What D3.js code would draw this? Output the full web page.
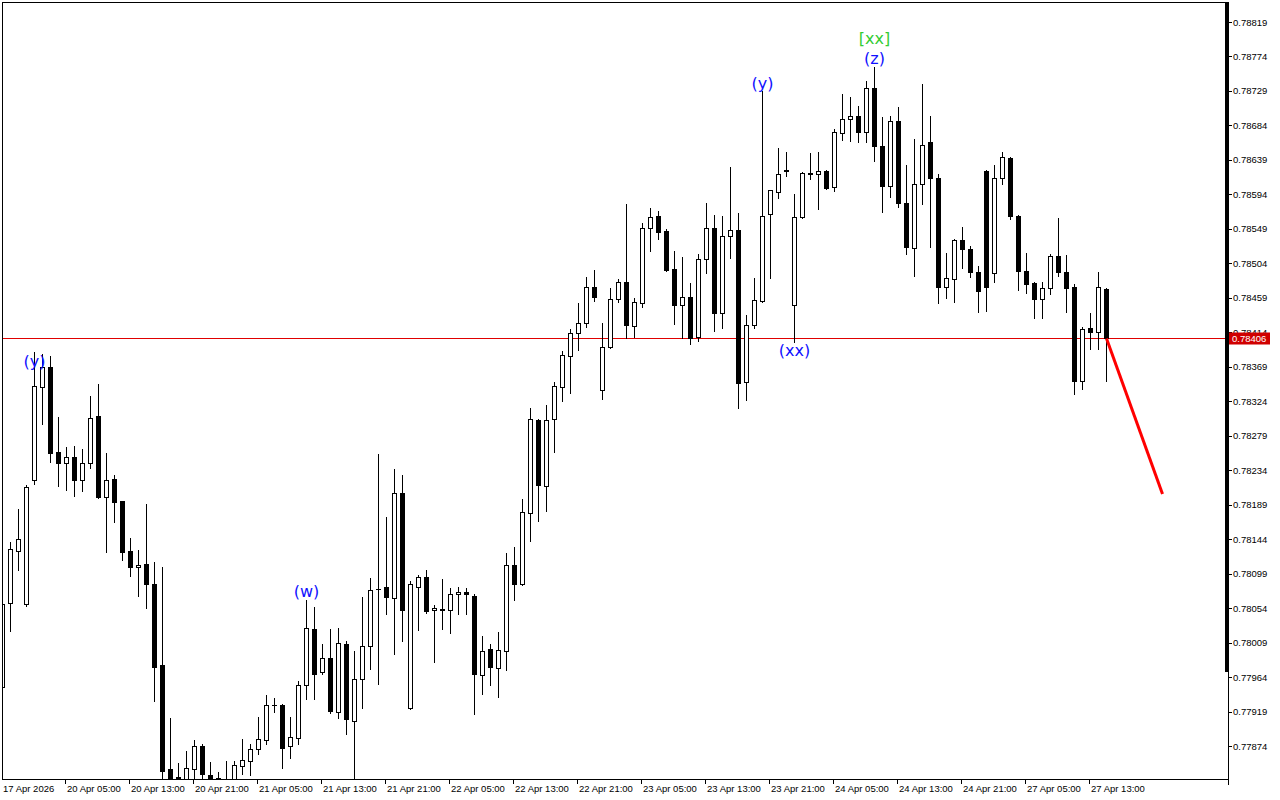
<!DOCTYPE html>
<html><head><meta charset="utf-8">
<script src="https://cdn.jsdelivr.net/npm/d3@7"></script>
<style>body{margin:0;background:#fff;overflow:hidden}svg{display:block}</style>
</head><body>
<svg id="c" width="1280" height="800"></svg>
<script>
// ---- data (H1 candles) ----
const opens = [0.77951,0.78061,0.78129,0.78059,0.78221,0.78343,0.78369,0.78258,0.78243,0.78251,0.78221,0.78243,0.78305,0.78199,0.78222,0.78194,0.78129,0.78108,0.78112,0.78085,
0.77980,0.77844,0.77833,0.77828,0.77844,0.77874,0.77836,0.77832,0.77830,0.77829,0.77848,0.77854,0.77870,0.77882,0.77928,0.77928,0.77874,0.77884,0.77954,0.78027,
0.77971,0.77989,0.77918,0.78007,0.77907,0.77961,0.78005,0.78079,0.78082,0.78067,0.78204,0.77924,0.78082,0.78095,0.78052,0.78053,0.78052,0.78072,0.78075,0.78070,
0.77967,0.78001,0.77976,0.77998,0.78110,0.78085,0.78178,0.78300,0.78213,0.78301,0.78343,0.78383,0.78413,0.78426,0.78473,0.78339,0.78395,0.78457,0.78480,0.78422,
0.78452,0.78550,0.78566,0.78546,0.78497,0.78450,0.78460,0.78408,0.78510,0.78550,0.78439,0.78540,0.78548,0.78349,0.78424,0.78455,0.78568,0.78597,0.78626,0.78450,
0.78564,0.78622,0.78621,0.78625,0.78604,0.78674,0.78692,0.78696,0.78675,0.78733,0.78657,0.78605,0.78690,0.78583,0.78524,0.78608,0.78662,0.78615,0.78473,0.78484,
0.78534,0.78523,0.78493,0.78625,0.78491,0.78615,0.78641,0.78566,0.78494,0.78478,0.78457,0.78472,0.78514,0.78493,0.78473,0.78350,0.78420,0.78414,0.78471];
const highs = [0.78065,0.78140,0.78183,0.78215,0.78388,0.78386,0.78383,0.78303,0.78264,0.78266,0.78262,0.78331,0.78347,0.78256,0.78228,0.78194,0.78145,0.78130,0.78190,0.78114,
0.78108,0.77911,0.77852,0.77867,0.77882,0.77877,0.77853,0.77840,0.77854,0.77854,0.77883,0.77877,0.77912,0.77941,0.77937,0.77929,0.77912,0.77959,0.78065,0.78055,
0.78007,0.78027,0.78028,0.78011,0.77998,0.78068,0.78093,0.78255,0.78173,0.78236,0.78228,0.78089,0.78097,0.78104,0.78058,0.78092,0.78080,0.78082,0.78080,0.78072,
0.78018,0.78007,0.78023,0.78126,0.78134,0.78196,0.78315,0.78301,0.78319,0.78349,0.78390,0.78418,0.78452,0.78486,0.78495,0.78426,0.78472,0.78484,0.78581,0.78459,
0.78557,0.78576,0.78572,0.78549,0.78520,0.78512,0.78478,0.78516,0.78583,0.78567,0.78566,0.78630,0.78570,0.78437,0.78485,0.78729,0.78600,0.78655,0.78649,0.78594,
0.78623,0.78648,0.78649,0.78626,0.78679,0.78725,0.78721,0.78709,0.78742,0.78760,0.78695,0.78696,0.78708,0.78632,0.78666,0.78738,0.78696,0.78621,0.78517,0.78536,
0.78551,0.78527,0.78501,0.78626,0.78632,0.78649,0.78643,0.78567,0.78517,0.78480,0.78480,0.78516,0.78563,0.78515,0.78477,0.78421,0.78439,0.78493,0.78472];
const lows = [0.77947,0.78024,0.78104,0.78057,0.78216,0.78294,0.78245,0.78213,0.78208,0.78200,0.78207,0.78237,0.78198,0.78127,0.78166,0.78117,0.78096,0.78070,0.78054,0.77933,
0.77831,0.77826,0.77826,0.77826,0.77831,0.77830,0.77826,0.77826,0.77826,0.77826,0.77837,0.77836,0.77864,0.77877,0.77918,0.77845,0.77858,0.77877,0.77935,0.77935,
0.77968,0.77917,0.77911,0.77890,0.77831,0.77924,0.77975,0.77955,0.78046,0.77994,0.78011,0.77922,0.78025,0.78048,0.77984,0.78027,0.78021,0.78046,0.78046,0.77916,
0.77942,0.77954,0.77938,0.77973,0.78065,0.78084,0.78142,0.78168,0.78181,0.78258,0.78324,0.78335,0.78391,0.78421,0.78455,0.78327,0.78393,0.78454,0.78407,0.78408,
0.78447,0.78520,0.78536,0.78494,0.78425,0.78407,0.78399,0.78403,0.78491,0.78416,0.78420,0.78511,0.78315,0.78326,0.78420,0.78454,0.78485,0.78589,0.78618,0.78401,
0.78563,0.78614,0.78575,0.78601,0.78598,0.78665,0.78664,0.78662,0.78662,0.78638,0.78571,0.78591,0.78578,0.78516,0.78487,0.78581,0.78525,0.78452,0.78459,0.78454,
0.78498,0.78486,0.78440,0.78442,0.78480,0.78608,0.78562,0.78469,0.78465,0.78433,0.78433,0.78464,0.78487,0.78440,0.78333,0.78340,0.78392,0.78392,0.78350];
const closes = [0.78059,0.78131,0.78144,0.78212,0.78344,0.78369,0.78256,0.78243,0.78251,0.78221,0.78243,0.78302,0.78199,0.78221,0.78192,0.78127,0.78108,0.78110,0.78085,0.77977,
0.77841,0.77830,0.77832,0.77845,0.77874,0.77837,0.77829,0.77830,0.77831,0.77849,0.77856,0.77870,0.77883,0.77928,0.77928,0.77871,0.77886,0.77954,0.78028,0.77968,
0.77989,0.77920,0.78008,0.77909,0.77961,0.78005,0.78078,0.78079,0.78068,0.78204,0.78052,0.78085,0.78095,0.78050,0.78054,0.78052,0.78072,0.78075,0.78072,0.77968,
0.77998,0.77977,0.77999,0.78110,0.78085,0.78179,0.78301,0.78215,0.78300,0.78344,0.78384,0.78413,0.78426,0.78473,0.78460,0.78395,0.78457,0.78480,0.78424,0.78454,
0.78550,0.78564,0.78545,0.78495,0.78450,0.78460,0.78407,0.78510,0.78550,0.78439,0.78540,0.78548,0.78348,0.78424,0.78456,0.78566,0.78600,0.78621,0.78625,0.78564,
0.78622,0.78621,0.78625,0.78602,0.78675,0.78692,0.78696,0.78675,0.78733,0.78657,0.78605,0.78690,0.78583,0.78525,0.78608,0.78658,0.78615,0.78473,0.78485,0.78534,
0.78523,0.78493,0.78468,0.78473,0.78615,0.78643,0.78566,0.78494,0.78477,0.78457,0.78472,0.78514,0.78493,0.78472,0.78350,0.78418,0.78414,0.78473,0.78406];

const timeLabels = ["17 Apr 2026","20 Apr 05:00","20 Apr 13:00","20 Apr 21:00","21 Apr 05:00","21 Apr 13:00","21 Apr 21:00","22 Apr 05:00","22 Apr 13:00","22 Apr 21:00","23 Apr 05:00","23 Apr 13:00","23 Apr 21:00","24 Apr 05:00","24 Apr 13:00","24 Apr 21:00","27 Apr 05:00","27 Apr 13:00"];
const timeLabelBars = [0,8,16,24,32,40,48,56,64,72,80,88,96,104,112,120,128,136];
const priceTicks = [0.78819,0.78774,0.78729,0.78684,0.78639,0.78594,0.78549,0.78504,0.78459,0.78414,0.78369,0.78324,0.78279,0.78234,0.78189,0.78144,0.78099,0.78054,0.78009,0.77964,0.77919,0.77874];
const currentPrice = 0.78406;

const waveLabels = ["(y)","(w)","(y)","(xx)","(z)","[xx]"];
const waveBars   = [4,38,95,99,109,109];
const wavePrices = [0.78376,0.78076,0.78739,0.78390,0.78771,0.78797];
const waveColors = ["#1010ff","#1010ff","#1010ff","#1010ff","#1010ff","#33cc33"];

const forecastBars = [138,145];
const forecastPrices = [0.78406,0.78203];

// ---- layout ----
const svg = d3.select("#c");
const L = 2, T = 2, R = 1228, B = 779;
const x = d3.scaleLinear().domain([0, 153]).range([2.5, 2.5 + 8*153]);
const y = d3.scaleLinear().domain([0.77874, 0.78819]).range([746, 22]);
const font = "'Liberation Sans', Arial, sans-serif";

svg.append("defs").append("clipPath").attr("id","plot")
  .append("rect").attr("x",L+1).attr("y",T+1).attr("width",R-L-1).attr("height",B-T-1);

// current price line (behind candles)
const cpY = Math.round(y(currentPrice)) + 0.5;
svg.append("line").attr("x1",L).attr("x2",R).attr("y1",cpY).attr("y2",cpY)
  .attr("stroke","#e00000").attr("stroke-width",1);

const g = svg.append("g").attr("clip-path","url(#plot)");
const data = opens.map((o,i)=>({i,o,h:highs[i],l:lows[i],c:closes[i]}));

// wicks
g.selectAll("rect.wick").data(data).join("rect").attr("class","wick")
  .attr("x",d=>Math.floor(x(d.i)))
  .attr("y",d=>Math.round(y(d.h)))
  .attr("width",1)
  .attr("height",d=>Math.round(y(d.l))-Math.round(y(d.h))+1)
  .attr("fill","#000");

// bodies (outer black)
g.selectAll("rect.body").data(data).join("rect").attr("class","body")
  .attr("x",d=>Math.floor(x(d.i))-2)
  .attr("y",d=>Math.round(y(Math.max(d.o,d.c))))
  .attr("width",5)
  .attr("height",d=>Math.round(y(Math.min(d.o,d.c)))-Math.round(y(Math.max(d.o,d.c)))+1)
  .attr("fill","#000");
// hollow interior for bullish
g.selectAll("rect.hollow").data(data.filter(d=>d.c>d.o && (Math.round(y(d.o))-Math.round(y(d.c)))>=2)).join("rect").attr("class","hollow")
  .attr("x",d=>Math.floor(x(d.i))-1)
  .attr("y",d=>Math.round(y(d.c))+1)
  .attr("width",3)
  .attr("height",d=>Math.round(y(d.o))-Math.round(y(d.c))-1)
  .attr("fill","#fff");

// frame
svg.append("rect").attr("x",L+0.5).attr("y",T+0.5).attr("width",R-L).attr("height",B-T-0.5)
  .attr("fill","none").attr("stroke","#000").attr("stroke-width",1).attr("shape-rendering","crispEdges");
// thick scale bar on right
svg.append("rect").attr("x",R-3).attr("y",T).attr("width",3).attr("height",670).attr("fill","#000");
svg.append("line").attr("x1",R+0.5).attr("x2",R+0.5).attr("y1",T).attr("y2",B+6).attr("stroke","#000");

// price axis
const pa = svg.append("g");
pa.selectAll("line").data(priceTicks).join("line")
  .attr("x1",R).attr("x2",R+4)
  .attr("y1",d=>Math.round(y(d))+0.5).attr("y2",d=>Math.round(y(d))+0.5)
  .attr("stroke","#000");
pa.selectAll("text").data(priceTicks).join("text")
  .attr("x",R+5).attr("y",d=>y(d)+3.5)
  .attr("font-family",font).attr("font-size","9.5px").attr("fill","#000")
  .text(d=>d.toFixed(5));

// current price tag
svg.append("rect").attr("x",R+1).attr("y",cpY-6).attr("width",41).attr("height",12).attr("fill","#d00000");
svg.append("text").attr("x",R+4).attr("y",cpY+3.5).attr("font-family",font).attr("font-size","9.5px")
  .attr("fill","#fff").text(currentPrice.toFixed(5));

// time axis
const ta = svg.append("g");
ta.selectAll("line").data(timeLabelBars.slice(1)).join("line")
  .attr("x1",d=>Math.floor(x(d))-0.5).attr("x2",d=>Math.floor(x(d))-0.5)
  .attr("y1",B).attr("y2",B+5).attr("stroke","#000");
ta.selectAll("text").data(timeLabels).join("text")
  .attr("x",(d,k)=> k===0 ? 3 : Math.floor(x(timeLabelBars[k]))+1)
  .attr("y",792)
  .attr("font-family",font).attr("font-size","9.5px").attr("fill","#000")
  .text(d=>d);

// forecast line
const fl = d3.line().x(d=>x(d[0])).y(d=>y(d[1]));
svg.append("path").datum(forecastBars.map((b,k)=>[b,forecastPrices[k]]))
  .attr("d",fl).attr("fill","none").attr("stroke","#ff0000").attr("stroke-width",3);

// wave labels
svg.append("g").selectAll("text").data(waveLabels).join("text")
  .attr("x",(d,k)=>x(waveBars[k]))
  .attr("y",(d,k)=>y(wavePrices[k])+5.5)
  .attr("text-anchor","middle")
  .attr("font-family","'DejaVu Sans', Verdana, sans-serif").attr("font-size","16px")
  .attr("fill",(d,k)=>waveColors[k])
  .text(d=>d);
</script>
</body></html>
